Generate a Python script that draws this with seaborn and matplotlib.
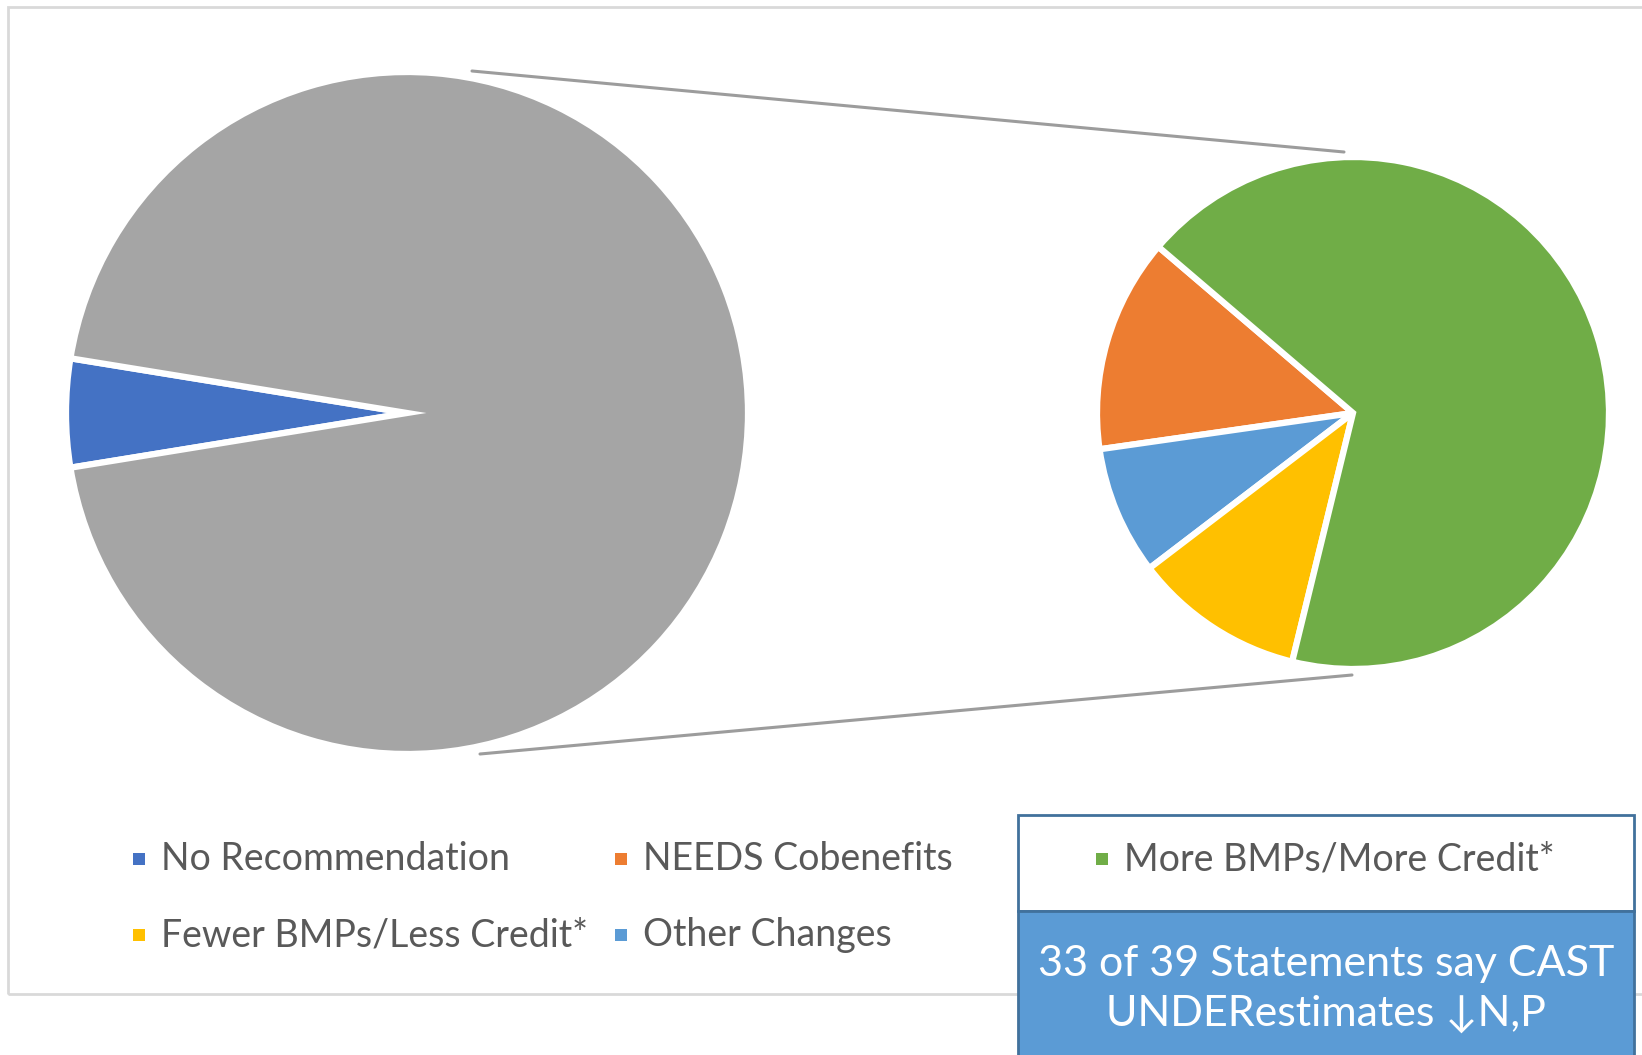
import seaborn as sns
import matplotlib.pyplot as plt
from matplotlib.patches import Rectangle

# data (statement counts)
labels = ["No Recommendation", "NEEDS Cobenefits", "More BMPs/More Credit*",
          "Fewer BMPs/Less Credit*", "Other Changes"]
counts = [2, 5, 25, 4, 3]
colors = ["#4472C4", "#ED7D31", "#70AD47", "#FFC000", "#5B9BD5"]
other_color = "#A5A5A5"
box_text = "33 of 39 Statements say CAST\nUNDERestimates \u2193N,P"

sns.set_theme(style="white")
plt.rcParams['font.family'] = ['Lato', 'DejaVu Sans']

W, H = 1642, 1055
def Y(py):
    return H - py

fig = plt.figure(figsize=(W / 100, H / 100), dpi=100)
ax = fig.add_axes([0, 0, 1, 1])

# first pie: No Recommendation vs the rest (which is split in the second pie)
rest = sum(counts[1:])
total = counts[0] + rest
start1 = 180 - counts[0] / total * 180
ax.pie([counts[0], rest], colors=[colors[0], other_color], startangle=start1,
       center=(407, Y(413)), radius=341, frame=True,
       wedgeprops=dict(edgecolor="white", linewidth=4.5))

# second pie, counter clockwise: orange, other, yellow, green
order = [1, 4, 3, 2]
ax.pie([counts[i] for i in order], colors=[colors[i] for i in order], startangle=139.5,
       center=(1353, Y(413)), radius=256, frame=True,
       wedgeprops=dict(edgecolor="white", linewidth=4.5))

# connector lines
ax.plot([472, 1344], [Y(71), Y(152)], color="#9C9C9C", lw=2.2, zorder=0)
ax.plot([480, 1352], [Y(754), Y(675)], color="#9C9C9C", lw=2.2, zorder=0)

# chart frame
ax.add_patch(Rectangle((8, Y(994)), W, 987, fill=False, edgecolor="#D9D9D9", lw=2, zorder=0))

# callout boxes
ax.add_patch(Rectangle((1018, Y(911)), 616, 96, facecolor="white", edgecolor="#41719C", lw=2, zorder=3))
ax.add_patch(Rectangle((1018, Y(1070)), 616, 159, facecolor="#5B9BD5", edgecolor="#41719C", lw=2, zorder=3))
ax.text(1326, Y(989), box_text, ha="center", va="center", color="white", fontsize=31,
        linespacing=1.36, zorder=5)

# legend
col_x = [139, 621, 1102]
row_y = [859, 935]
for i, (lab, c) in enumerate(zip(labels, colors)):
    cx = col_x[i % 3]
    cy = row_y[i // 3]
    ax.add_patch(Rectangle((cx - 6, Y(cy) - 6), 12, 12, facecolor=c, edgecolor="none", zorder=6))
    ax.text(cx + 22, Y(cy), lab, ha="left", va="center", color="#595959", fontsize=27, zorder=6)

ax.set_xlim(0, W)
ax.set_ylim(0, H)
ax.axis("off")
fig.savefig("out.png", dpi=100, facecolor="white")
